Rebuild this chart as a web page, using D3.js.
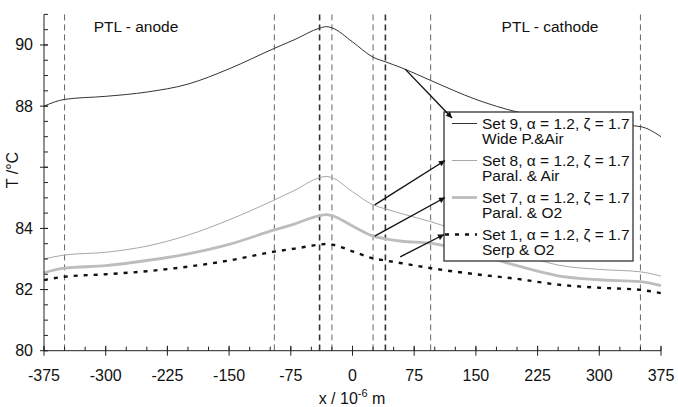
<!DOCTYPE html>
<html>
<head>
<meta charset="utf-8">
<script src="https://cdn.jsdelivr.net/npm/d3@7"></script>
<style>
  body { margin: 0; background: #fff; }
  svg { display: block; font-family: "Liberation Sans", Arial, sans-serif; }
</style>
</head>
<body>
<svg id="chart" width="678" height="407"></svg>
<script>
// positions across the cell, 10^-6 m
const xPos = [-375, -350, -300, -250, -200, -150, -95, -70, -40, -32, -25, 0, 25, 40, 60, 95, 150, 200, 250, 300, 350, 375];

// temperatures, degC
const set9 = [88.00, 88.22, 88.32, 88.46, 88.72, 89.22, 89.89, 90.18, 90.55, 90.60, 90.56, 90.10, 89.60, 89.45, 89.25, 88.84, 88.22, 87.81, 87.58, 87.44, 87.33, 87.00];
const set8 = [83.00, 83.13, 83.22, 83.42, 83.78, 84.28, 84.93, 85.25, 85.66, 85.70, 85.66, 85.20, 84.77, 84.64, 84.48, 84.22, 83.72, 83.20, 82.80, 82.66, 82.58, 82.44];
const set7 = [82.55, 82.70, 82.78, 82.95, 83.17, 83.48, 83.95, 84.15, 84.42, 84.45, 84.42, 84.08, 83.75, 83.66, 83.58, 83.52, 83.18, 82.78, 82.45, 82.32, 82.26, 82.13];
const set1 = [82.31, 82.42, 82.50, 82.60, 82.75, 82.95, 83.24, 83.34, 83.47, 83.49, 83.47, 83.25, 83.02, 82.95, 82.86, 82.70, 82.50, 82.35, 82.16, 82.06, 81.99, 81.88];

// layer boundaries (dashed lines)
const boundaries = [-350, -95, -40, -25, 25, 40, 95, 350];
const strongBoundaries = [-40, 40];

const xTicks = [-375, -300, -225, -150, -75, 0, 75, 150, 225, 300, 375];
const yTicks = [80, 82, 84, 86, 88, 90];
const yTickLabels = ['80', '82', '84', '', '88', '90'];

const seriesNames = ['Set 9, \u03b1 = 1.2, \u03b6 = 1.7', 'Set 8, \u03b1 = 1.2, \u03b6 = 1.7', 'Set 7, \u03b1 = 1.2, \u03b6 = 1.7', 'Set 1, \u03b1 = 1.2, \u03b6 = 1.7'];
const seriesSub = ['Wide P.&Air', 'Paral. & Air', 'Paral. & O2', 'Serp & O2'];
// where each annotation arrow leaves its curve [x, T]
const arrowFrom = [[64, 89.21], [27, 84.77], [27, 83.75], [58, 83.07]];

const svg = d3.select('#chart');
const W = 678, H = 407;
const m = { left: 44, right: 17, top: 14.4, bottom: 56.3 };

const x = d3.scaleLinear().domain([-375, 375]).range([m.left, W - m.right]);
const y = d3.scaleLinear().domain([80, 91]).range([H - m.bottom, m.top]);

const styles = [
  { stroke: '#333', width: 1, dash: null },
  { stroke: '#a8a8a8', width: 1, dash: null },
  { stroke: '#bdbdbd', width: 2.8, dash: null },
  { stroke: '#111', width: 2.4, dash: '4,6' },
];
const allSeries = [set9, set8, set7, set1];

// boundaries
svg.append('g').selectAll('line').data(boundaries).join('line')
  .attr('x1', d => x(d)).attr('x2', d => x(d))
  .attr('y1', y(91)).attr('y2', y(80))
  .attr('stroke', d => strongBoundaries.includes(d) ? '#333' : '#666')
  .attr('stroke-width', d => strongBoundaries.includes(d) ? 1.6 : 1)
  .attr('stroke-dasharray', '6,4');

// curves
const line = d3.line().x(d => x(d[0])).y(d => y(d[1])).curve(d3.curveMonotoneX);
svg.append('g').selectAll('path').data(allSeries).join('path')
  .attr('fill', 'none')
  .attr('d', s => line(xPos.map((v, i) => [v, s[i]])))
  .attr('stroke', (s, i) => styles[i].stroke)
  .attr('stroke-width', (s, i) => styles[i].width)
  .attr('stroke-dasharray', (s, i) => styles[i].dash);

// axes
const axes = svg.append('g').attr('stroke', '#222').attr('stroke-width', 1);
axes.append('line').attr('x1', x(-375)).attr('x2', x(-375)).attr('y1', y(91)).attr('y2', y(80));
axes.append('line').attr('x1', x(-375)).attr('x2', x(375)).attr('y1', y(80)).attr('y2', y(80));
axes.selectAll('.ymin').data(d3.range(80, 91.01, 0.5)).join('line')
  .attr('x1', x(-375)).attr('x2', x(-375) + 4).attr('y1', d => y(d)).attr('y2', d => y(d));
axes.selectAll('.ymaj').data(yTicks).join('line')
  .attr('x1', x(-375) - 4).attr('x2', x(-375) + 4).attr('y1', d => y(d)).attr('y2', d => y(d));
axes.selectAll('.xmin').data(d3.range(-375, 375.01, 25)).join('line')
  .attr('x1', d => x(d)).attr('x2', d => x(d)).attr('y1', y(80)).attr('y2', y(80) - 4);
axes.selectAll('.xmaj').data(xTicks).join('line')
  .attr('x1', d => x(d)).attr('x2', d => x(d)).attr('y1', y(80) - 5).attr('y2', y(80) + 5);

svg.append('g').selectAll('text').data(yTicks).join('text')
  .attr('x', 33).attr('y', d => y(d) + 5.5)
  .attr('text-anchor', 'end').attr('font-size', 16).attr('fill', '#111')
  .text((d, i) => yTickLabels[i]);
svg.append('g').selectAll('text').data(xTicks).join('text')
  .attr('x', d => x(d)).attr('y', 381)
  .attr('text-anchor', 'middle').attr('font-size', 16).attr('fill', '#111')
  .text(d => d);

const xt = svg.append('text').attr('x', 352).attr('y', 404).attr('text-anchor', 'middle')
  .attr('font-size', 16).attr('fill', '#111');
xt.append('tspan').text('x / 10');
xt.append('tspan').attr('font-size', 11).attr('dy', -7).text('-6');
xt.append('tspan').attr('dy', 7).text(' m');

svg.append('text').attr('transform', 'translate(18,170) rotate(-90)')
  .attr('text-anchor', 'middle').attr('font-size', 16).attr('fill', '#111')
  .text('T /\u00b0C');

svg.append('text').attr('x', 136).attr('y', 32).attr('text-anchor', 'middle')
  .attr('font-size', 15.5).attr('fill', '#111').text('PTL - anode');
svg.append('text').attr('x', 550).attr('y', 32).attr('text-anchor', 'middle')
  .attr('font-size', 15.5).attr('fill', '#111').text('PTL - cathode');

// legend
const lg = { x: 444, y: 112, w: 189, h: 149, step: 37, base: 129 };
svg.append('rect').attr('x', lg.x).attr('y', lg.y).attr('width', lg.w).attr('height', lg.h)
  .attr('fill', '#fff').attr('stroke', '#333').attr('stroke-width', 1.3);
const items = svg.append('g').selectAll('g').data(seriesNames).join('g')
  .attr('transform', (d, i) => `translate(0,${lg.base + i * lg.step})`);
items.append('line')
  .attr('x1', (d, i) => i === 3 ? lg.x + 1 : lg.x + 8).attr('x2', lg.x + 33)
  .attr('y1', -5.5).attr('y2', -5.5)
  .attr('stroke', (d, i) => styles[i].stroke)
  .attr('stroke-width', (d, i) => styles[i].width)
  .attr('stroke-dasharray', (d, i) => styles[i].dash);
items.append('text').attr('x', lg.x + 38).attr('y', 0)
  .attr('font-size', 15.5).attr('fill', '#111').text(d => d);
items.append('text').attr('x', lg.x + 38).attr('y', 15)
  .attr('font-size', 15.5).attr('fill', '#111').text((d, i) => seriesSub[i]);

// annotation arrows
svg.append('defs').append('marker').attr('id', 'ah')
  .attr('viewBox', '0 0 10 10').attr('refX', 10).attr('refY', 5)
  .attr('markerWidth', 7).attr('markerHeight', 6).attr('markerUnits', 'userSpaceOnUse')
  .attr('orient', 'auto')
  .append('path').attr('d', 'M0,0L10,5L0,10z').attr('fill', '#111');
const arrowTo = [[lg.x + 8, lg.y + 6], [lg.x + 1, lg.base + lg.step - 5.5], [lg.x + 1, lg.base + 2 * lg.step - 5.5], [lg.x, lg.base + 3 * lg.step - 5.5]];
svg.append('g').selectAll('line').data(arrowFrom).join('line')
  .attr('x1', d => x(d[0])).attr('y1', d => y(d[1]))
  .attr('x2', (d, i) => arrowTo[i][0]).attr('y2', (d, i) => arrowTo[i][1])
  .attr('stroke', '#111').attr('stroke-width', 1.4)
  .attr('marker-end', 'url(#ah)');
</script>
</body>
</html>
